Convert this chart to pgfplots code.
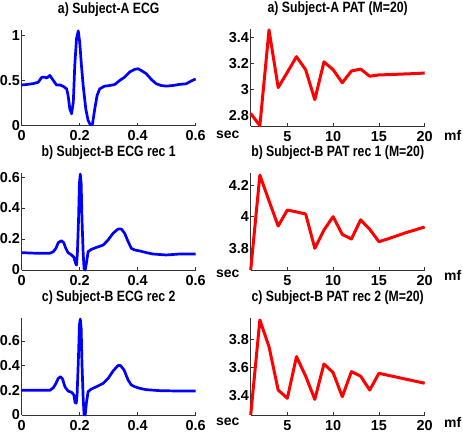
\documentclass[border=0pt]{standalone}
\usepackage{fontspec}
\setmainfont{Liberation Sans}
\newfontfamily\narrowfont{Liberation Sans}[FakeStretch=0.82]
\usepackage{pgfplots}
\usepackage{pgfplotstable}
\pgfplotsset{compat=1.18}

% ECG beats (time in s, amplitude)
\pgfplotstableread{
t v
0 0.45
0.017 0.455
0.04 0.465
0.057 0.48
0.069 0.535
0.08 0.537
0.086 0.526
0.097 0.556
0.109 0.5
0.12 0.45
0.132 0.45
0.143 0.435
0.155 0.407
0.16 0.333
0.166 0.185
0.172 0.13
0.178 0.26
0.183 0.667
0.189 0.963
0.195 1.05
0.2 0.926
0.206 0.667
0.212 0.444
0.221 0.185
0.229 0.056
0.237 0.007
0.244 0.015
0.252 0.185
0.26 0.333
0.269 0.407
0.286 0.437
0.304 0.444
0.321 0.455
0.338 0.5
0.355 0.537
0.372 0.593
0.389 0.622
0.401 0.63
0.412 0.611
0.43 0.574
0.447 0.511
0.464 0.463
0.481 0.444
0.498 0.437
0.521 0.444
0.544 0.456
0.567 0.463
0.584 0.493
0.596 0.511
0.6 0.515
}\ecgA
\pgfplotstableread{
t v
0 0.112
0.052 0.108
0.097 0.108
0.109 0.118
0.118 0.14
0.126 0.176
0.137 0.189
0.145 0.176
0.152 0.14
0.16 0.112
0.172 0.097
0.18 0.082
0.186 0.043
0.189 0.032
0.192 0.108
0.196 0.323
0.199 0.559
0.202 0.619
0.205 0.559
0.208 0.323
0.212 0.108
0.215 0.011
0.219 0
0.223 0.043
0.229 0.118
0.24 0.133
0.258 0.146
0.281 0.161
0.298 0.194
0.315 0.237
0.332 0.264
0.344 0.264
0.355 0.237
0.367 0.183
0.378 0.14
0.39 0.129
0.407 0.123
0.43 0.112
0.453 0.103
0.498 0.097
0.544 0.103
0.6 0.103
}\ecgB
\pgfplotstableread{
t v
0 0.2
0.097 0.2
0.109 0.22
0.118 0.255
0.126 0.296
0.134 0.31
0.141 0.291
0.149 0.229
0.16 0.194
0.172 0.184
0.18 0.162
0.184 0.103
0.188 0.095
0.191 0.162
0.196 0.486
0.199 0.729
0.202 0.777
0.205 0.702
0.208 0.405
0.212 0.135
0.215 0.005
0.219 0
0.223 0.095
0.229 0.189
0.24 0.21
0.258 0.229
0.281 0.256
0.298 0.296
0.315 0.356
0.332 0.4
0.341 0.4
0.353 0.364
0.367 0.283
0.378 0.243
0.39 0.229
0.407 0.216
0.43 0.205
0.476 0.197
0.544 0.194
0.6 0.194
}\ecgC
% PAT against mf
\pgfplotstableread{
mf pat
1 2.815
2 2.72
3 3.455
4 3.013
5 3.13
6 3.25
7 3.15
8 2.92
9 3.21
10 3.15
11 3.05
12 3.14
13 3.155
14 3.10
15 3.11
16 3.112
17 3.115
18 3.118
19 3.12
20 3.125
}\patA
\pgfplotstableread{
mf pat
1 3.663
2 4.263
3 4.10
4 3.941
5 4.042
6 4.03
7 4.017
8 3.80
9 3.916
10 4.0
11 3.888
12 3.859
13 3.98
14 3.92
15 3.842
16 3.86
17 3.88
18 3.90
19 3.917
20 3.935
}\patB
\pgfplotstableread{
mf pat
1 3.266
2 3.936
3 3.748
4 3.442
5 3.384
6 3.678
7 3.54
8 3.376
9 3.626
10 3.565
11 3.395
12 3.572
13 3.54
14 3.442
15 3.56
16 3.546
17 3.532
18 3.518
19 3.504
20 3.49
}\patC

\pgfplotsset{
  panel/.style={
    scale only axis, width=174bp,
    anchor=south west,
    axis lines*=left,
    xtick pos=left, ytick pos=left,
    tick align=inside,
    major tick length=3bp,
    axis line style={black!80, line width=0.7bp},
    every tick/.style={black!80, line width=0.6bp},
    clip=false,
    /pgf/number format/assume math mode=true,
    tick label style={font=\fontsize{14.5}{16}\selectfont\bfseries},
    xticklabel style={anchor=base, yshift=-15bp},
    yticklabel style={inner xsep=1.5bp},
    title style={at={(0.5,1)}, anchor=base, yshift=11bp,
                 font=\narrowfont\fontsize{15}{17}\selectfont\bfseries},
    xlabel style={at={(1,0)}, anchor=base west,
                  font=\fontsize{14}{16}\selectfont\bfseries},
  },
  ecg/.style={panel, xmin=0, xmax=0.6, ymin=0,
    xtick={0,0.2,0.4,0.6}, xlabel={sec}},
  pat/.style={panel, xmin=1, xmax=20,
    xtick={5,10,15,20}, xlabel={mf}},
  ecgline/.style={blue, line width=2.7bp, line join=round},
  patline/.style={red, line width=3bp, line join=round},
}

\begin{document}
\begin{tikzpicture}
\useasboundingbox (0,0) rectangle (463bp,-442bp);

% row 1
\begin{axis}[ecg, at={(21.7bp,-125.5bp)}, height=95.5bp,
  ymax=1.06, ytick={0,0.5,1},
  title={a) Subject-A ECG},
  xlabel style={xshift=17bp, yshift=-12.5bp}]
\addplot[ecgline] table[x=t, y=v] {\ecgA};
\end{axis}
\begin{axis}[pat, at={(250.7bp,-126bp)}, height=96.7bp,
  ymin=2.718, ymax=3.46, ytick={2.8,3,3.2,3.4},
  title={a) Subject-A PAT (M=20)},
  xlabel style={xshift=16bp, yshift=-14bp}]
\addplot[patline] table[x=mf, y=pat] {\patA};
\end{axis}

% row 2
\begin{axis}[ecg, at={(21.7bp,-270bp)}, height=97bp,
  ymax=0.626, ytick={0,0.2,0.4,0.6},
  title={b) Subject-B ECG rec 1},
  xlabel style={xshift=17bp, yshift=-7bp}]
\addplot[ecgline] table[x=t, y=v] {\ecgB};
\end{axis}
\begin{axis}[pat, at={(250.7bp,-270bp)}, height=97bp,
  ymin=3.663, ymax=4.276, ytick={3.8,4,4.2},
  title={b) Subject-B PAT rec 1 (M=20)},
  xlabel style={xshift=16bp, yshift=-10bp}]
\addplot[patline] table[x=mf, y=pat] {\patB};
\end{axis}

% row 3
\begin{axis}[ecg, at={(21.7bp,-415bp)}, height=97bp,
  ymax=0.785, ytick={0,0.2,0.4,0.6},
  title={c) Subject-B ECG rec 2},
  xlabel style={xshift=17bp, yshift=-10bp}]
\addplot[ecgline] table[x=t, y=v] {\ecgC};
\end{axis}
\begin{axis}[pat, at={(250.7bp,-415bp)}, height=97bp,
  ymin=3.266, ymax=3.95, ytick={3.4,3.6,3.8},
  title={c) Subject-B PAT rec 2 (M=20)},
  xlabel style={xshift=16bp, yshift=-12bp}]
\addplot[patline] table[x=mf, y=pat] {\patC};
\end{axis}
\end{tikzpicture}
\end{document}
